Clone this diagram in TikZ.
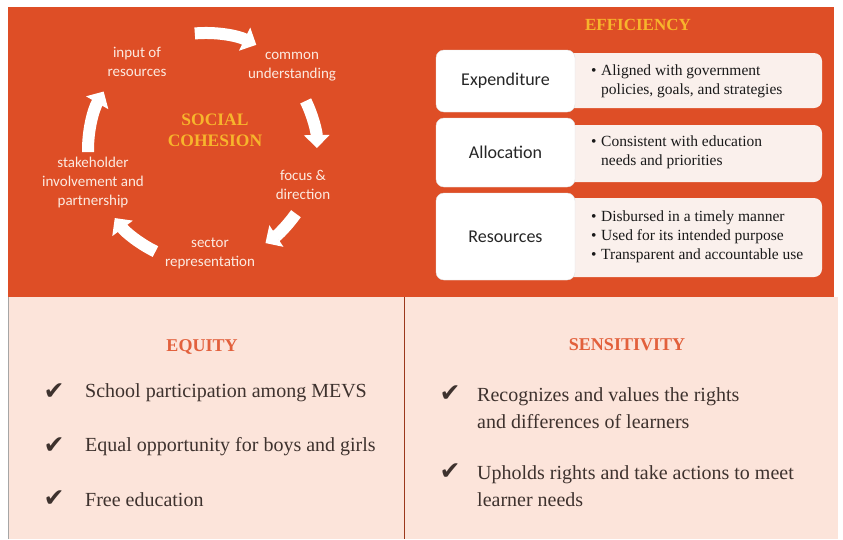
\documentclass[tikz,border=0pt]{standalone}
\usepackage{fontspec}
\setmainfont{Liberation Serif}
\setsansfont{Carlito}
\newfontfamily\symfont{DejaVu Sans}
\usetikzlibrary{arrows.meta}
\definecolor{cohorange}{RGB}{222,78,38}
\definecolor{cohgold}{RGB}{247,181,44}
\definecolor{cohpink}{RGB}{252,228,218}
\definecolor{cohcream}{RGB}{252,234,224}
\definecolor{boxtint}{RGB}{250,240,236}
\definecolor{headred}{RGB}{226,96,60}
\definecolor{inkbrown}{RGB}{62,50,46}
\newcommand{\bitem}[1]{\makebox[10pt][l]{\textbullet}#1}
\newcommand{\bcont}[1]{\hspace*{10pt}#1}

\begin{document}
\begin{tikzpicture}[x=1pt,y=1pt,
  cyc/.style={font=\sffamily\fontsize{15}{19}\selectfont,text=cohcream,align=center,inner sep=0pt},
  cycarrow/.style={white,line width=12pt,-{Triangle[width=25pt,length=13pt]}},
  head/.style={font=\bfseries\fontsize{18}{20}\selectfont},
  lbl/.style={draw=black!12,fill=white,rounded corners=8pt,minimum width=139pt,
    font=\sffamily\fontsize{18}{20}\selectfont,text=black!85},
  bul/.style={anchor=west,align=left,inner sep=0pt,text=black!90,
    font=\fontsize{15.5}{19}\selectfont},
  tick/.style={font=\symfont\fontsize{25}{26}\selectfont,text=inkbrown,inner sep=0pt},
  item/.style={anchor=west,align=left,inner sep=0pt,text=inkbrown,
    font=\fontsize{20}{27}\selectfont}]

\useasboundingbox (0,0) rectangle (843,-539);
\fill[cohorange] (8,-7) rectangle (834,-297);
\fill[cohpink] (8,-297) rectangle (838,-539);
\draw[black!35,line width=0.8pt] (8,-297) -- (8,-539);
\draw[cohorange!70!black,line width=0.8pt] (404,-297) -- (404,-539);

% social cohesion cycle
\coordinate (hub) at (205,-150);
\node[head,text=cohgold,align=center,font=\bfseries\fontsize{17.5}{21}\selectfont] (soc) at (215,-130) {SOCIAL\\COHESION};
\node[cyc] (input) at (137,-62) {input of\\resources};
\node[cyc] (common) at (292,-67) {common\\understanding};
\node[cyc] (focus) at (303,-185) {focus \&\\direction};
\node[cyc] (sector) at (210,-253) {sector\\representation};
\node[cyc] (stake) at (93,-182) {stakeholder\\involvement and\\partnership};

\draw[cycarrow] (hub) ++(95:117) arc[start angle=95,end angle=64,radius=117];
\draw[cycarrow] (hub) ++(26:112) arc[start angle=26,end angle=1,radius=112];
\draw[cycarrow] (hub) ++(-35:111) arc[start angle=-35,end angle=-57,radius=111];
\draw[cycarrow] (hub) ++(-116:113) arc[start angle=-116,end angle=-143,radius=113];
\draw[cycarrow] (hub) ++(181:117) arc[start angle=181,end angle=150,radius=117];

% efficiency
\node[head,text=cohgold,font=\bfseries\fontsize{17}{20}\selectfont] (eff) at (638,-25) {EFFICIENCY};

\fill[boxtint,rounded corners=8pt] (565,-53) rectangle (822,-108);
\fill[boxtint,rounded corners=8pt] (565,-125) rectangle (822,-182);
\fill[boxtint,rounded corners=8pt] (565,-198) rectangle (822,-277);

\node[lbl,minimum height=62pt] (expend) at (505.5,-81) {Expenditure};
\node[lbl,minimum height=69pt] (alloc) at (505.5,-152.5) {Allocation};
\node[lbl,minimum height=87pt] (resour) at (505.5,-236.5) {Resources};

\node[bul] (expendtxt) at (591,-81) {\bitem{Aligned with government}\\\bcont{policies, goals, and strategies}};
\node[bul] (alloctxt) at (591,-152) {\bitem{Consistent with education}\\\bcont{needs and priorities}};
\node[bul] (resourtxt) at (591,-237) {\bitem{Disbursed in a timely manner}\\\bitem{Used for its intended purpose}\\\bitem{Transparent and accountable use}};

% equity
\node[head,text=headred] (equity) at (202,-347) {EQUITY};
\node[tick] (t1) at (54,-392) {✔};
\node[item] (e1) at (85,-393) {School participation among MEVS};
\node[tick] (t2) at (54,-446) {✔};
\node[item] (e2) at (85,-447) {Equal opportunity for boys and girls};
\node[tick] (t3) at (54,-499) {✔};
\node[item] (e3) at (85,-500) {Free education};

% sensitivity
\node[head,text=headred] (sensi) at (627,-345) {SENSITIVITY};
\node[tick] (t4) at (450,-394) {✔};
\node[item] (s1) at (477,-408.5) {Recognizes and values the rights\\and differences of learners};
\node[tick] (t5) at (450,-472) {✔};
\node[item] (s2) at (477,-486.5) {Upholds rights and take actions to meet\\learner needs};
\end{tikzpicture}
\end{document}
